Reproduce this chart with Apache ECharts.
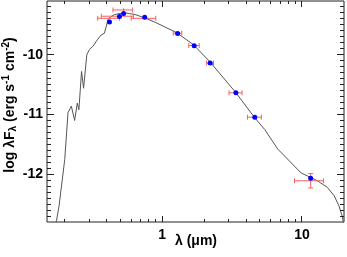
<!DOCTYPE html>
<html>
<head>
<meta charset="utf-8">
<script src="https://cdn.jsdelivr.net/npm/echarts@6/dist/echarts.min.js"></script>
<style>
html,body{margin:0;padding:0;background:#fff;}
#chart{width:347px;height:257px;}
</style>
</head>
<body>
<div id="chart"></div>
<script>
// ---- model SED curve (wavelength in micron, log lambda*F_lambda) ----
const modelLam = [0.172,0.1754,0.183,0.201,0.212,0.224,0.230,0.2365,0.247,0.2537,0.265,0.274,0.289,0.302,0.319,0.337,0.346,0.366,0.386,0.397,0.404,0.407,0.431,0.454,0.493,0.550,0.648,0.763,0.898,1.27,1.67,2.18,3.33,4.58,5.41,6.72,9.88,10.97,12.9,15.2,17.0,18.4,19.4,19.7,19.8];
const modelLogF = [-12.85,-12.78,-12.53,-11.75,-10.97,-10.86,-10.85,-11.10,-10.81,-10.92,-10.28,-10.56,-10.00,-9.91,-9.86,-9.78,-9.74,-9.67,-9.64,-9.63,-9.47,-9.42,-9.36,-9.33,-9.31,-9.30,-9.33,-9.39,-9.46,-9.63,-9.83,-10.11,-10.62,-11.05,-11.25,-11.58,-11.98,-12.03,-12.11,-12.22,-12.36,-12.53,-12.70,-12.78,-12.85];

// ---- photometry ----
const photLam = [0.42,0.495,0.53,0.75,1.29,1.695,2.205,3.37,4.6,11.55];
const photHalfWidth = [0.074,0.128,0.085,0.15,0.09,0.145,0.125,0.36,0.525,2.7];
const obsLogF = [-9.39,-9.355,-9.25,-9.39,-9.638,-9.845,-10.14,-10.638,-11.045,-12.11];
const obsErr = [0.02,0.02,0.03,0.02,0.02,0.02,0.02,0.02,0.02,0.12];
const synthLogF = [-9.45,-9.36,-9.31,-9.37,-9.645,-9.85,-10.138,-10.638,-11.045,-12.067];

// ---- ticks ----
const xMajorTicks = [1,10];
const xMinorTicks = [0.2,0.3,0.4,0.5,0.6,0.7,0.8,0.9,2,3,4,5,6,7,8,9];
const yMajorTicks = [-12,-11,-10];
const yMinorTicks = [-12.7,-12.6,-12.5,-12.4,-12.3,-12.2,-12.1,-11.9,-11.8,-11.7,-11.6,-11.5,-11.4,-11.3,-11.2,-11.1,-10.9,-10.8,-10.7,-10.6,-10.5,-10.4,-10.3,-10.2,-10.1,-9.9,-9.8,-9.7,-9.6,-9.5,-9.4,-9.3,-9.2];

const FONT = 'Liberation Sans, Arial, Helvetica, sans-serif';
const AX = '#222';

const chart = echarts.init(document.getElementById('chart'), null, {renderer:'canvas'});

function snap(v){ return Math.round(v - 0.5) + 0.5; }

function xTickRender(params, api){
  const cs = params.coordSys;
  const major = api.value(2);
  const len = major ? 6 : 3;
  const px = snap(api.coord([api.value(0), api.value(1)])[0]);
  const b = cs.y + cs.height, t = cs.y;
  return {type:'group', children:[
    {type:'line', shape:{x1:px,y1:b,x2:px,y2:b-len}, style:{stroke:AX,lineWidth:1}},
    {type:'line', shape:{x1:px,y1:t,x2:px,y2:t+len}, style:{stroke:AX,lineWidth:1}}
  ]};
}
function yTickRender(params, api){
  const cs = params.coordSys;
  const major = api.value(2);
  const len = major ? 7 : 4;
  const py = snap(api.coord([api.value(0), api.value(1)])[1]);
  const l = cs.x, r = cs.x + cs.width;
  return {type:'group', children:[
    {type:'line', shape:{x1:l,y1:py,x2:l+len,y2:py}, style:{stroke:AX,lineWidth:1}},
    {type:'line', shape:{x1:r,y1:py,x2:r-len,y2:py}, style:{stroke:AX,lineWidth:1}}
  ]};
}
const RED = 'rgb(244,96,96)';
function errRender(params, api){
  const lam = api.value(0), f = api.value(1), hw = api.value(2), e = api.value(3);
  const pL = api.coord([lam-hw, f]), pR = api.coord([lam+hw, f]);
  const pT = api.coord([lam, f+e]), pB = api.coord([lam, f-e]);
  const c = api.coord([lam, f]);
  const st = {stroke:RED, lineWidth:1};
  const ch = [
    {type:'line', shape:{x1:pL[0],y1:c[1],x2:pR[0],y2:c[1]}, style:st},
    {type:'line', shape:{x1:pL[0],y1:c[1]-2.5,x2:pL[0],y2:c[1]+2.5}, style:st},
    {type:'line', shape:{x1:pR[0],y1:c[1]-2.5,x2:pR[0],y2:c[1]+2.5}, style:st},
    {type:'line', shape:{x1:c[0],y1:pT[1],x2:c[0],y2:pB[1]}, style:st}
  ];
  if (pB[1]-pT[1] > 4) {
    ch.push({type:'line', shape:{x1:c[0]-2.5,y1:pT[1],x2:c[0]+2.5,y2:pT[1]}, style:st});
    ch.push({type:'line', shape:{x1:c[0]-2.5,y1:pB[1],x2:c[0]+2.5,y2:pB[1]}, style:st});
  }
  return {type:'group', children:ch};
}

const xTickData = xMajorTicks.map(v=>[v,-11,1]).concat(xMinorTicks.map(v=>[v,-11,0]));
const yTickData = yMajorTicks.map(v=>[1,v,1]).concat(yMinorTicks.map(v=>[1,v,0]));

function isIntPow(v){ const l = Math.log10(v); return v >= 1 && Math.abs(l - Math.round(l)) < 1e-6; }

chart.setOption({
  animation:false,
  backgroundColor:'#fff',
  grid:{left:47, right:1, top:1, bottom:35, show:true, borderColor:AX, borderWidth:1, backgroundColor:'transparent'},
  xAxis:{
    type:'log', logBase:10, min:0.15, max:20,
    axisLine:{show:false}, axisTick:{show:false}, splitLine:{show:false}, minorTick:{show:false},
    axisLabel:{
      margin:6, color:'#000', fontSize:14, fontWeight:'bold', fontFamily:FONT,
      formatter:function(v){ return isIntPow(v) ? String(Math.round(v)) : ''; }
    }
  },
  yAxis:{
    type:'value', min:-12.8, max:-9.1, interval:0.1,
    axisLine:{show:false}, axisTick:{show:false}, splitLine:{show:false},
    axisLabel:{
      margin:4, color:'#000', fontSize:14, fontWeight:'bold', fontFamily:FONT,
      formatter:function(v){ return Math.abs(v - Math.round(v)) < 1e-6 ? String(Math.round(v)) : ''; }
    }
  },
  graphic:[
    {type:'text', x:10, y:105, rotation:Math.PI/2,
     style:{
       text:'{a|log λF}{sub|λ}{a| (erg s}{sup|-1}{a| cm}{sup|-2}{a|)}',
       align:'center', verticalAlign:'middle', fill:'#000',
       rich:{
         a:{fontSize:14, fontWeight:'bold', fontFamily:FONT, lineHeight:19, verticalAlign:'middle'},
         sub:{fontSize:10, fontWeight:'bold', fontFamily:FONT, lineHeight:19, verticalAlign:'bottom', padding:[0,0,1,0]},
         sup:{fontSize:10, fontWeight:'bold', fontFamily:FONT, lineHeight:19, verticalAlign:'top', padding:[1,0,0,0]}
       }
     }},
    {type:'text', x:196, y:241,
     style:{text:'λ (μm)', align:'center', verticalAlign:'middle', fill:'#000',
            fontSize:14, fontWeight:'bold', fontFamily:FONT}}
  ],
  series:[
    {type:'line', data:modelLam.map((l,i)=>[l, modelLogF[i]]), showSymbol:false, symbol:'none',
     lineStyle:{color:'#555', width:1}, clip:true, z:2, silent:true},
    {type:'custom', renderItem:errRender, data:photLam.map((l,i)=>[l, obsLogF[i], photHalfWidth[i], obsErr[i]]),
     z:3, silent:true, clip:false},
    {type:'scatter', data:photLam.map((l,i)=>[l, synthLogF[i]]), symbol:'circle', symbolSize:5,
     itemStyle:{color:'#0000ff', opacity:1}, z:4, silent:true},
    {type:'custom', renderItem:xTickRender, data:xTickData, z:5, silent:true, clip:false},
    {type:'custom', renderItem:yTickRender, data:yTickData, z:5, silent:true, clip:false}
  ]
});
</script>
</body>
</html>
